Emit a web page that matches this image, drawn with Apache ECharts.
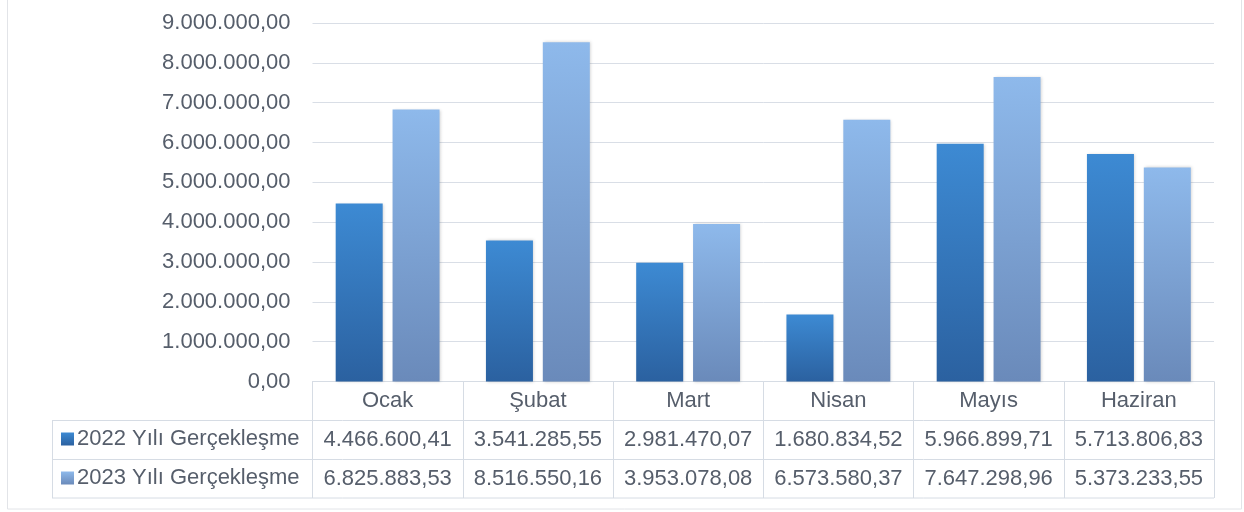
<!DOCTYPE html>
<html>
<head>
<meta charset="utf-8">
<script src="https://cdn.jsdelivr.net/npm/echarts@6/dist/echarts.min.js"></script>
<style>
html,body{margin:0;padding:0;background:#fff;}
#chart{width:1244px;height:512px;}
</style>
</head>
<body>
<div id="chart"></div>
<script>
const categories = ['Ocak', 'Şubat', 'Mart', 'Nisan', 'Mayıs', 'Haziran'];
const seriesNames = ['2022 Yılı Gerçekleşme', '2023 Yılı Gerçekleşme'];
const values2022 = [4466600.41, 3541285.55, 2981470.07, 1680834.52, 5966899.71, 5713806.83];
const values2023 = [6825883.53, 8516550.16, 3953078.08, 6573580.37, 7647298.96, 5373233.55];
const yMin = 0, yMax = 9000000, yStep = 1000000;

function fmt(v) {
  const parts = Number(v).toFixed(2).split('.');
  parts[0] = parts[0].replace(/\B(?=(\d{3})+(?!\d))/g, '.');
  return parts[0] + ',' + parts[1];
}

const FONT = 'Liberation Sans';
const TXT = '#565e6b';
const LINE = '#d6dce4';
const G = { left: 312.5, right: 30, top: 23, bottom: 130.5 };
const ROW = 39;
const W = 1244, H = 512;
const axisY = H - G.bottom;
const tableLeft = 52;
const tableRight = W - G.right;

function grad(top, bottom) {
  return new echarts.graphic.LinearGradient(0, 0, 0, 1, [
    { offset: 0, color: top }, { offset: 1, color: bottom }
  ]);
}

const chart = echarts.init(document.getElementById('chart'), null, { renderer: 'canvas' });

const labelBase = { fontFamily: FONT, fontSize: 22, color: TXT, lineHeight: ROW, margin: 0, interval: 0 };

chart.setOption({
  animation: false,
  backgroundColor: '#fff',
  textStyle: { fontFamily: FONT },
  grid: { left: G.left, right: G.right, top: G.top, bottom: G.bottom, containLabel: false },
  legend: {
    orient: 'vertical',
    left: 61, top: 428, padding: 0,
    itemWidth: 13, itemHeight: 13, itemGap: ROW - 22,
    icon: 'rect',
    textStyle: { fontFamily: FONT, fontSize: 22, color: TXT, lineHeight: 22, padding: [0, 0, 0, -2] },
    data: seriesNames
  },
  xAxis: [
    {
      type: 'category', data: categories, position: 'bottom',
      axisLine: { show: true, lineStyle: { color: LINE, width: 1 } },
      axisTick: { show: true, interval: 0, length: ROW * 3 - 0.5, lineStyle: { color: LINE, width: 1 } },
      axisLabel: Object.assign({}, labelBase)
    },
    {
      type: 'category', data: categories, position: 'bottom', offset: ROW,
      axisLine: { show: false }, axisTick: { show: false },
      axisLabel: Object.assign({}, labelBase, { formatter: (v, i) => fmt(values2022[i]) })
    },
    {
      type: 'category', data: categories, position: 'bottom', offset: ROW * 2,
      axisLine: { show: false }, axisTick: { show: false },
      axisLabel: Object.assign({}, labelBase, { formatter: (v, i) => fmt(values2023[i]) })
    }
  ],
  yAxis: {
    type: 'value', min: yMin, max: yMax, interval: yStep,
    axisLine: { show: false }, axisTick: { show: false },
    splitLine: { lineStyle: { color: '#d9dee6', width: 1 } },
    axisLabel: { fontFamily: FONT, fontSize: 22, color: TXT, margin: 22, formatter: v => fmt(v) }
  },
  series: [
    {
      name: seriesNames[0], type: 'bar', data: values2022, xAxisIndex: 0,
      barWidth: 47, barGap: '21%',
      itemStyle: { color: grad('#3d8ad3', '#2b61a0'), shadowColor: 'rgba(0,0,0,0.18)', shadowBlur: 3, shadowOffsetX: 1, shadowOffsetY: 0 }
    },
    {
      name: seriesNames[1], type: 'bar', data: values2023, xAxisIndex: 0,
      barWidth: 47,
      itemStyle: { color: grad('#8eb9eb', '#6a8aba'), shadowColor: 'rgba(0,0,0,0.18)', shadowBlur: 3, shadowOffsetX: 1, shadowOffsetY: 0 }
    }
  ],
  graphic: [
    { type: 'line', silent: true, shape: { x1: tableLeft, y1: axisY + ROW, x2: tableRight, y2: axisY + ROW }, style: { stroke: LINE, lineWidth: 1 } },
    { type: 'line', silent: true, shape: { x1: tableLeft, y1: axisY + ROW * 2, x2: tableRight, y2: axisY + ROW * 2 }, style: { stroke: LINE, lineWidth: 1 } },
    { type: 'line', silent: true, shape: { x1: tableLeft, y1: axisY + ROW * 3 - 0.5, x2: tableRight, y2: axisY + ROW * 3 - 0.5 }, style: { stroke: LINE, lineWidth: 1 } },
    { type: 'line', silent: true, shape: { x1: tableLeft + 0.5, y1: axisY + ROW, x2: tableLeft + 0.5, y2: axisY + ROW * 3 - 0.5 }, style: { stroke: LINE, lineWidth: 1 } },
    { type: 'rect', silent: true, shape: { x: 7.5, y: -5, width: 1234, height: 514 }, style: { fill: 'none', stroke: '#e2e4e8', lineWidth: 1 } }
  ]
});
</script>
</body>
</html>
